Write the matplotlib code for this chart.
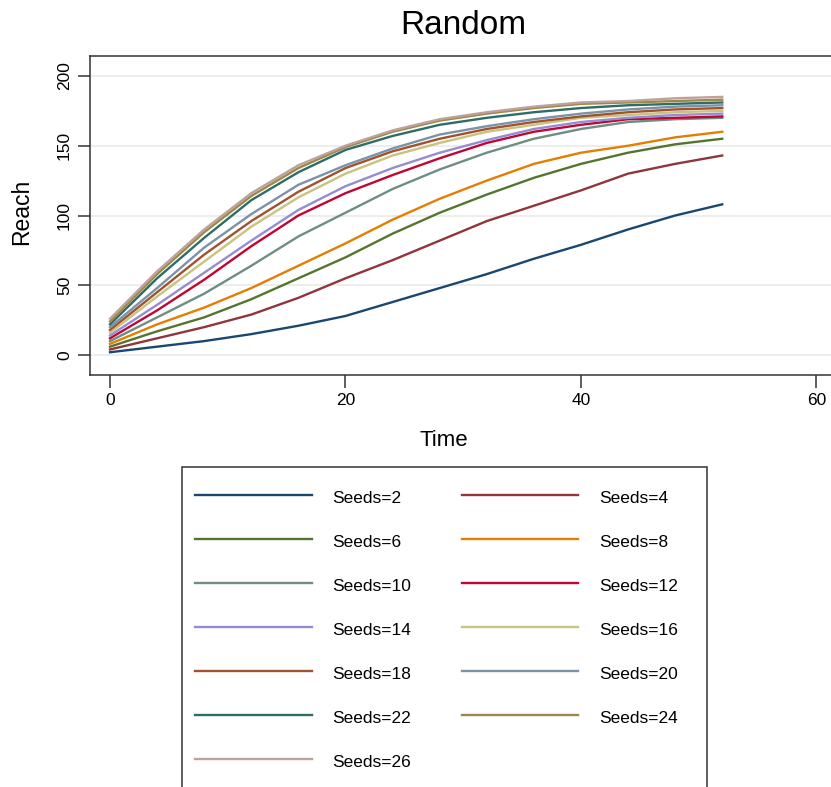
import matplotlib
matplotlib.use("Agg")
import matplotlib.pyplot as plt
from matplotlib.patches import Rectangle

plt.rcParams["font.family"] = ["Liberation Sans", "DejaVu Sans"]

# simulation time steps
time = [0, 4, 8, 12, 16, 20, 24, 28, 32, 36, 40, 44, 48, 52]

# reach per number of seeds
seeds_2 = [2, 6, 10, 15, 21, 28, 38, 48, 58, 69, 79, 90, 100, 108]
seeds_4 = [4, 12, 20, 29, 41, 55, 68, 82, 96, 107, 118, 130, 137, 143]
seeds_6 = [6, 17, 27, 40, 55, 70, 87, 102, 115, 127, 137, 145, 151, 155]
seeds_8 = [8, 22, 34, 48, 64, 80, 97, 112, 125, 137, 145, 150, 156, 160]
seeds_10 = [10, 27, 44, 64, 85, 102, 119, 133, 145, 155, 162, 167, 169, 170]
seeds_12 = [12, 32, 54, 78, 100, 116, 129, 141, 152, 160, 165, 169, 170, 171]
seeds_14 = [14, 36, 59, 82, 104, 121, 134, 145, 154, 162, 167, 170, 172, 173]
seeds_16 = [16, 42, 67, 92, 113, 130, 143, 152, 160, 165, 170, 172, 174, 175]
seeds_18 = [18, 45, 72, 96, 117, 134, 146, 155, 162, 167, 171, 174, 176, 177]
seeds_20 = [20, 48, 77, 101, 122, 136, 148, 158, 164, 169, 173, 176, 178, 179]
seeds_22 = [22, 55, 84, 111, 131, 147, 157, 165, 170, 174, 177, 179, 180, 181]
seeds_24 = [24, 58, 88, 114, 134, 149, 160, 168, 173, 177, 180, 181, 182, 183]
seeds_26 = [26, 60, 90, 116, 136, 150, 161, 169, 174, 178, 181, 182, 184, 185]

labels = ["Seeds=%d" % n for n in range(2, 27, 2)]
series = [seeds_2, seeds_4, seeds_6, seeds_8, seeds_10, seeds_12, seeds_14,
          seeds_16, seeds_18, seeds_20, seeds_22, seeds_24, seeds_26]

# Stata s2color palette
colors = ["#1a476f", "#90353b", "#55752f", "#e37e00", "#6e8e84", "#c10534",
          "#938dd2", "#cac27e", "#a0522d", "#7b92a8", "#2d6d66", "#9c8847",
          "#bfa19c"]

W, H = 831, 787
fig = plt.figure(figsize=(W / 100, H / 100), dpi=100)
ax = fig.add_axes([90 / W, 1 - 375 / H, 750 / W, 319 / H])

handles = []
for vals, lab, col in zip(series, labels, colors):
    ln, = ax.plot(time, vals, color=col, lw=1.7, label=lab)
    handles.append(ln)

ax.set_xlim(-1.7, 62)
ax.set_ylim(-14.3, 214.3)
ax.set_xticks([0, 20, 40, 60])
ax.set_yticks([0, 50, 100, 150, 200])
ax.grid(axis="y", color="#eaeaea", lw=1.2)
ax.set_axisbelow(True)
for side in ("left", "bottom", "top"):
    ax.spines[side].set_color("#333333")
    ax.spines[side].set_linewidth(1.1)
ax.spines["right"].set_visible(False)
ax.tick_params(axis="both", direction="out", length=9, width=1.1,
               color="#333333", labelsize=12.5, pad=4)
plt.setp(ax.get_yticklabels(), rotation=90, va="center")

fig.text(463 / W, 1 - 25 / H, "Random", fontsize=24, ha="center", va="center")
fig.text(444 / W, 1 - 441 / H, "Time", fontsize=16, ha="center", va="center")
fig.text(22 / W, 1 - 212 / H, "Reach", fontsize=16.5, rotation=90,
         ha="center", va="center")

# legend fills row by row, as in Stata: reorder for matplotlib's column fill
order = list(range(0, 13, 2)) + list(range(1, 13, 2))
leg = fig.legend([handles[i] for i in order], [labels[i] for i in order],
                 loc="upper left", bbox_to_anchor=(182 / W, 1 - 473 / H),
                 ncol=2, fontsize=12.5, frameon=False,
                 handlelength=6.7, handleheight=1.6, handletextpad=1.2,
                 columnspacing=2.92, labelspacing=1.25, borderpad=0.76,
                 borderaxespad=0)
for line in leg.get_lines():
    line.set_linewidth(1.7)

# legend box, running off the bottom of the picture
fig.patches.append(Rectangle((182 / W, -0.05), 525 / W, 1 - 467 / H + 0.05,
                             transform=fig.transFigure, fill=False,
                             edgecolor="#333333", linewidth=1.1))

fig.savefig("out.png", dpi=100)
